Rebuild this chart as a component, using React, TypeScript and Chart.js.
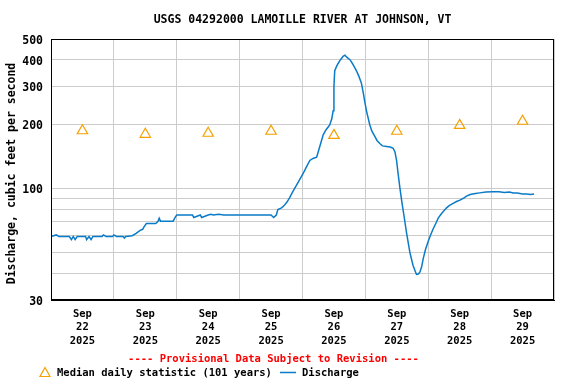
import React, { useEffect, useRef } from 'react';
import { Chart, registerables } from 'chart.js';

Chart.register(...registerables);

const titleText = 'USGS 04292000 LAMOILLE RIVER AT JOHNSON, VT';
const yAxisTitle = 'Discharge, cubic feet per second';
const provisionalText = '---- Provisional Data Subject to Revision ----';
const medianLegend = 'Median daily statistic (101 years)';
const dischargeLegend = 'Discharge';

const dayLabels = ['22', '23', '24', '25', '26', '27', '28', '29'];
const monthLabel = 'Sep';
const yearLabel = '2025';

const medianHours = [12, 36, 60, 84, 108, 132, 156, 180];
const medianValues = [186, 179, 181, 185, 177, 185, 197, 206];

const dischargeHours = [
  0, 2, 3, 7, 7.8, 8.5, 9.2, 10, 13.2, 13.6, 14.5, 15.3, 16, 19.5, 20, 21, 23.5, 24, 25, 27.5, 28, 28.5,
  31, 32.5, 34, 35, 35.5, 36.4, 40, 40.9, 41.3, 41.8, 46, 46.6, 47.5, 48, 52, 54, 54.5, 57, 57.5, 60, 61, 62,
  64, 66, 84, 85, 86, 86.6, 88, 89, 90, 91, 92.4, 94, 96.2, 97.5, 98.8, 100, 101.4, 102.6, 103.9, 105,
  106.4, 107.2, 107.7, 108, 108.3, 109, 109.6, 110.5, 111.5, 112.2, 113, 114.1, 115, 116.6, 117.5, 118.5,
  119.2, 119.8, 120.5, 121.7, 122.5, 123.6, 124.5, 125.5, 126.5, 128.1, 129.5, 130.6, 131.3, 131.9, 132.5,
  133.2, 134, 134.7, 135.7, 137, 138.2, 139.5, 140.2, 140.8, 141.5, 142.1, 143, 144, 145, 145.9, 147, 147.8,
  149, 151, 152, 153.5, 155, 156.1, 157.5, 158.6, 160, 162, 163.7, 166, 168.8, 171, 173, 175, 176.4, 178,
  180, 181.6, 183, 184.4,
];
const dischargeValues = [
  59.5, 60.5, 59.5, 59.5, 57.5, 59.5, 57.5, 59.5, 59.5, 57.5, 59.5, 57.5, 59.5, 59.5, 60.5, 59.5, 59.5, 60.5, 59.5, 59.5, 58.5, 59.5,
  60, 61.5, 63.6, 64.3, 66, 68.4, 68.4, 70.2, 72.4, 70.2, 70.2, 70.2, 73.5, 75, 75, 75, 73, 75, 73, 75, 75.6, 75,
  75.6, 75, 75, 73, 75, 79.5, 81, 83, 86, 90, 97, 105, 117, 126, 135, 138, 140, 157, 178, 188,
  198, 212, 231, 300, 355, 372, 384, 400, 415, 420, 410, 400, 385, 355, 335, 310,
  280, 253, 228, 198, 185, 175, 167, 162, 158, 157, 156, 154, 148, 135, 117,
  100, 85, 75, 62, 50, 43.5, 39.5, 39.7, 40.5, 43, 47, 52, 56.5, 61, 64.7, 69, 72.5,
  76, 81, 83, 85, 87, 88, 90, 92, 93.5, 94.5, 95.2, 96, 96.3, 96.3, 95.5, 96, 95, 95,
  94, 94, 93.5, 94,
];

const yTickValues = [30, 40, 50, 60, 70, 80, 90, 100, 200, 300, 400, 500];
const yLabelValues = [30, 100, 200, 300, 400, 500];
const xTickHours = [0, 12, 24, 36, 48, 60, 72, 84, 96, 108, 120, 132, 144, 156, 168, 180, 192];

const MONO = '"DejaVu Sans Mono", "Liberation Mono", monospace';
const ORANGE = '#f5a000';
const BLUE = '#0a7bc8';

const decorPlugin = {
  id: 'decor',
  afterDraw(chart: any) {
    const { ctx, chartArea } = chart;
    ctx.save();
    // plot border
    ctx.strokeStyle = '#000';
    ctx.lineWidth = 1;
    ctx.strokeRect(chartArea.left + 0.5, chartArea.top + 0.5, chartArea.right - chartArea.left - 1, chartArea.bottom - chartArea.top - 1);
    // title
    ctx.fillStyle = '#000';
    ctx.font = `bold 11.5px ${MONO}`;
    ctx.textAlign = 'center';
    ctx.textBaseline = 'middle';
    ctx.fillText(titleText, (chartArea.left + chartArea.right) / 2, 20);
    // y axis title
    ctx.save();
    ctx.translate(12, 173.5);
    ctx.rotate(-Math.PI / 2);
    ctx.fillText(yAxisTitle, 0, 0);
    ctx.restore();
    // provisional
    ctx.font = `bold 10.5px ${MONO}`;
    ctx.fillStyle = '#ff0000';
    ctx.fillText(provisionalText, 273.5, 359.5);
    // legend
    ctx.textAlign = 'left';
    ctx.fillStyle = '#000';
    const ly = 373.5;
    ctx.strokeStyle = ORANGE;
    ctx.lineWidth = 1.2;
    ctx.beginPath();
    ctx.moveTo(45, ly - 6);
    ctx.lineTo(50, ly + 3);
    ctx.lineTo(40, ly + 3);
    ctx.closePath();
    ctx.stroke();
    ctx.fillText(medianLegend, 57, ly);
    ctx.strokeStyle = BLUE;
    ctx.lineWidth = 1.5;
    ctx.beginPath();
    ctx.moveTo(280, ly - 1);
    ctx.lineTo(296, ly - 1);
    ctx.stroke();
    ctx.fillText(dischargeLegend, 302, ly);
    ctx.restore();
  },
};

export default function App() {
  const ref = useRef<HTMLCanvasElement | null>(null);
  useEffect(() => {
    document.body.style.margin = '0';
    if (!ref.current) return;
    const chart = new Chart(ref.current, {
      type: 'line',
      data: {
        datasets: [
          {
            label: dischargeLegend,
            data: dischargeHours.map((h, i) => ({ x: h, y: dischargeValues[i] })),
            borderColor: BLUE,
            borderWidth: 1.5,
            pointRadius: 0,
            tension: 0,
            fill: false,
          },
          {
            label: medianLegend,
            data: medianHours.map((h, i) => ({ x: h, y: medianValues[i] })),
            showLine: false,
            pointStyle: 'triangle',
            pointRadius: 6,
            pointBorderColor: ORANGE,
            pointBackgroundColor: 'rgba(0,0,0,0)',
            pointBorderWidth: 1.2,
          },
        ],
      },
      options: {
        responsive: false,
        animation: false,
        layout: { padding: { top: 39, left: 0, right: 22, bottom: 0 } },
        plugins: { legend: { display: false }, title: { display: false }, tooltip: { enabled: false } },
        scales: {
          x: {
            type: 'linear',
            min: 0,
            max: 192,
            afterBuildTicks: (scale: any) => {
              scale.ticks = xTickHours.map((v) => ({ value: v }));
            },
            afterFit: (scale: any) => {
              scale.height = 84;
            },
            grid: {
              drawTicks: false,
              color: (c: any) => (c.tick && c.tick.value % 24 === 0 ? '#cccccc' : 'rgba(0,0,0,0)'),
              lineWidth: 1,
            },
            border: { display: true, color: '#000' },
            ticks: {
              autoSkip: false,
              maxRotation: 0,
              padding: 8,
              color: '#000',
              font: { family: MONO, size: 10.5, weight: 'bold', lineHeight: 1.25 },
              callback: (v: any) => {
                const n = Number(v);
                if (n % 24 !== 12) return '';
                const idx = (n - 12) / 24;
                return [monthLabel, dayLabels[idx], yearLabel];
              },
            },
          },
          y: {
            type: 'logarithmic',
            min: 30,
            max: 500,
            afterBuildTicks: (scale: any) => {
              scale.ticks = yTickValues.map((v) => ({ value: v }));
            },
            afterFit: (scale: any) => {
              scale.width = 51;
            },
            grid: { drawTicks: false, color: '#cccccc', lineWidth: 1 },
            border: { display: true, color: '#000' },
            title: { display: false },
            ticks: {
              autoSkip: false,
              padding: 8,
              labelOffset: 2,
              color: '#000',
              font: { family: MONO, size: 11.5, weight: 'bold' },
              callback: (v: any) => (yLabelValues.includes(Number(v)) ? String(v) : ''),
            },
          },
        },
      },
      plugins: [decorPlugin],
    });
    return () => chart.destroy();
  }, []);
  return <canvas ref={ref} width={576} height={384} style={{ display: 'block' }} />;
}
